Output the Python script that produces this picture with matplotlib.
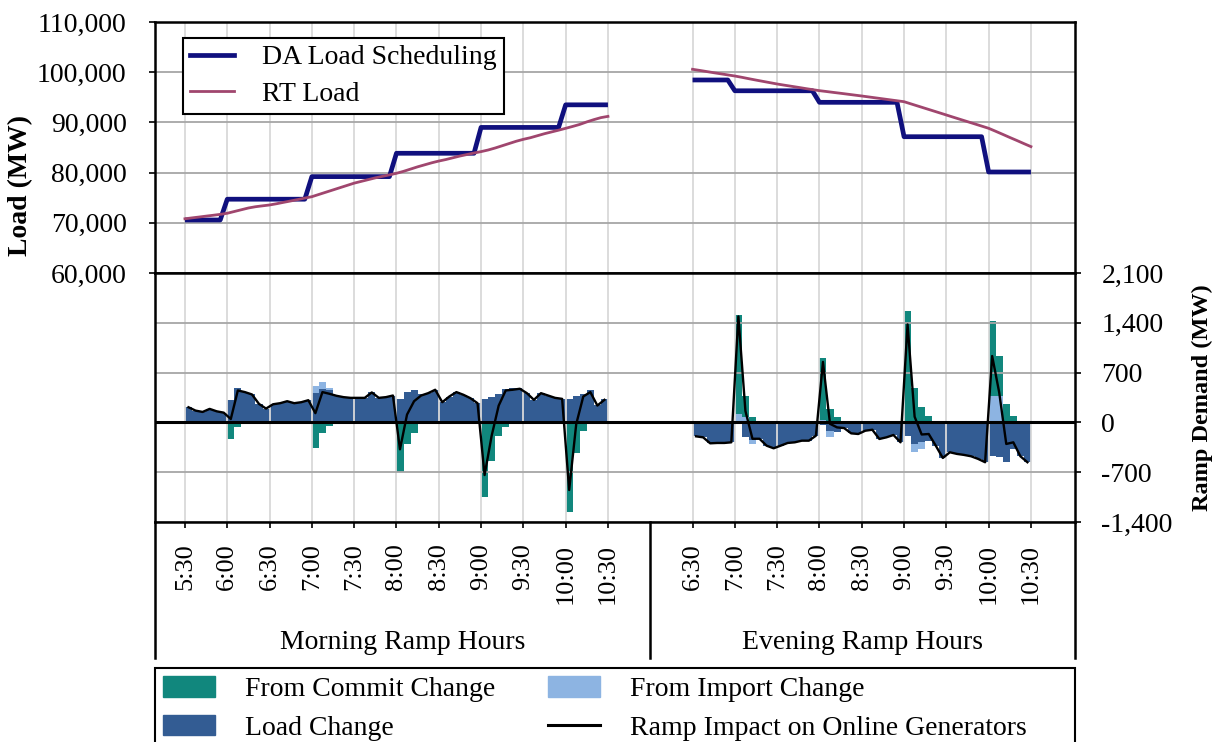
import matplotlib
matplotlib.use("Agg")
import matplotlib.pyplot as plt
import matplotlib.transforms as mtransforms
from matplotlib.patches import Patch, Rectangle
from matplotlib.lines import Line2D
from matplotlib.ticker import StrMethodFormatter, FixedLocator
import numpy as np

plt.rcParams['font.family'] = ['Liberation Serif', 'DejaVu Serif']
plt.rcParams['axes.unicode_minus'] = False
FS = 20      # horizontal text
FSR = 19     # rotated tick labels

# ---------------- data ----------------
morning_ticks = ['5:30', '6:00', '6:30', '7:00', '7:30', '8:00', '8:30',
                 '9:00', '9:30', '10:00', '10:30']
evening_ticks = ['6:30', '7:00', '7:30', '8:00', '8:30', '9:00', '9:30',
                 '10:00', '10:30']
group_labels = ['Morning Ramp Hours', 'Evening Ramp Hours']

# Load (MW) at each 5-min time stamp
da_morning = [70560, 70560, 70560, 70560, 70560, 70560,
              74700, 74700, 74700, 74700, 74700, 74700,
              74700, 74700, 74700, 74700, 74700, 74700,
              79200, 79200, 79200, 79200, 79200, 79200,
              79200, 79200, 79200, 79200, 79200, 79200,
              83850, 83850, 83850, 83850, 83850, 83850,
              83850, 83850, 83850, 83850, 83850, 83850,
              89000, 89000, 89000, 89000, 89000, 89000,
              89000, 89000, 89000, 89000, 89000, 89000,
              93500, 93500, 93500, 93500, 93500, 93500, 93500]
rt_morning = [70800, 70980, 71150, 71330, 71500, 71680,
              71900, 72250, 72600, 72950, 73200, 73380,
              73550, 73800, 74080, 74350, 74630, 74920,
              75200, 75650, 76100, 76550, 77000, 77450,
              77900, 78250, 78600, 78950, 79250, 79550,
              79860, 80250, 80700, 81150, 81550, 81950,
              82300, 82600, 82950, 83300, 83600, 83900,
              84180, 84500, 84900, 85350, 85800, 86250,
              86630, 86950, 87350, 87750, 88100, 88450,
              88820, 89200, 89600, 90100, 90550, 90950, 91200]
da_evening = [98450, 98450, 98450, 98450, 98450, 98450,
              96300, 96300, 96300, 96300, 96300, 96300,
              96300, 96300, 96300, 96300, 96300, 96300,
              94000, 94000, 94000, 94000, 94000, 94000,
              94000, 94000, 94000, 94000, 94000, 94000,
              87150, 87150, 87150, 87150, 87150, 87150,
              87150, 87150, 87150, 87150, 87150, 87150,
              80120, 80120, 80120, 80120, 80120, 80120, 80120]
rt_evening = [100580, 100360, 100130, 99900, 99680, 99460,
              99240, 98980, 98700, 98430, 98170, 97910,
              97650, 97420, 97200, 96980, 96750, 96530,
              96320, 96150, 95970, 95800, 95620, 95440,
              95260, 95070, 94880, 94690, 94500, 94310,
              94125, 93680, 93240, 92800, 92360, 91920,
              91475, 91030, 90590, 90150, 89710, 89270,
              88825, 88230, 87620, 87000, 86400, 85780, 85175]

# Ramp demand (MW) per 5-min interval
load_morning = [213, 166, 147, 190, 156, 137,
                317, 490, 426, 393, 260, 194,
                255, 270, 298, 270, 284, 312,
                410, 473, 450, 374, 355, 345,
                345, 345, 421, 345, 355, 378,
                330, 430, 450, 400, 411, 459,
                284, 364, 426, 388, 340, 270,
                331, 355, 402, 473, 487, 487,
                411, 317, 411, 378, 345, 331,
                331, 378, 402, 450, 250, 330]
import_morning = [0, 0, 0, 0, 0, 0,
                  0, 0, 0, 0, 0, 0,
                  0, 0, 0, 0, 0, 0,
                  100, 100, 40, 0, 0, 0,
                  0, 0, 0, 0, 0, 0,
                  0, 0, 0, 0, 0, 0,
                  0, 0, 0, 0, 0, 0,
                  0, 0, 0, 0, 0, 0,
                  0, 0, 0, 0, 0, 0,
                  0, 0, 0, 0, 0, 0]
commit_morning = [0, 0, 0, 0, 0, 0,
                  -238, -61, 0, 0, 0, 0,
                  0, 0, 0, 0, 0, 0,
                  -355, -145, -51, 0, 0, 0,
                  0, 0, 0, 0, 0, 0,
                  -695, -308, -145, 0, 0, 0,
                  0, 0, 0, 0, 0, 0,
                  -1054, -545, -190, -60, 0, 0,
                  0, 0, 0, 0, 0, 0,
                  -1260, -425, -121, 0, 0, 0]
impact_morning = [213, 166, 147, 190, 156, 137,
                  47, 449, 426, 393, 260, 194,
                  255, 270, 298, 270, 284, 312,
                  130, 426, 402, 374, 355, 345,
                  345, 345, 421, 345, 355, 378,
                  -378, 110, 298, 378, 411, 459,
                  284, 364, 426, 388, 340, 270,
                  -740, -189, 236, 449, 459, 473,
                  411, 317, 411, 378, 345, 331,
                  -950, -24, 364, 426, 237, 317]

load_evening = [-196, -210, -294, -289, -289, -280,
                -20, -210, -250, -230, -327, -364,
                -327, -289, -280, -257, -257, -187,
                -40, -120, -140, -80, -154, -163,
                -117, -103, -233, -210, -177, -280,
                -190, -300, -280, -257, -327, -500,
                -420, -443, -457, -476, -513, -560,
                -470, -490, -560, -373, -476, -560]
import_evening = [0, 0, 0, 0, 0, 0,
                  120, 80, -50, 0, 0, 0,
                  0, 0, 0, 0, 0, 0,
                  40, -90, 0, 0, 0, 0,
                  0, 0, 0, 0, 0, 0,
                  0, -110, -100, 0, 0, 0,
                  0, 0, 0, 0, 0, 0,
                  373, 373, 0, 0, 0, 0]
commit_evening = [0, 0, 0, 0, 0, 0,
                  1390, 290, 70, 0, 0, 0,
                  0, 0, 0, 0, 0, 0,
                  870, 187, 70, 0, 0, 0,
                  0, 0, 0, 0, 0, 0,
                  1563, 490, 210, 93, 0, 0,
                  0, 0, 0, 0, 0, 0,
                  1050, 560, 257, 93, 0, 0]
impact_evening = [-196, -210, -294, -289, -289, -280,
                  1490, 160, -230, -230, -327, -364,
                  -327, -289, -280, -257, -257, -187,
                  850, -20, -70, -80, -154, -163,
                  -117, -103, -233, -210, -177, -280,
                  1377, 80, -170, -163, -327, -500,
                  -420, -443, -457, -476, -513, -560,
                  933, 420, -303, -280, -476, -560]

# ---------------- styling ----------------
C_DA = '#10107E'
C_RT = '#A0466E'
C_COMMIT = '#11877D'
C_IMPORT = '#8DB4E2'
C_LOAD = '#335C93'
C_VGRID = '#D9D9D9'
C_HGRID = '#A6A6A6'

EVE_OFF = 72            # slot offset of evening block
DIVIDER = 66
XLIM = (-4.25, 126.25)

fig = plt.figure(figsize=(12.15, 7.42), dpi=100)
L, W = 155 / 1215, 920 / 1215
ax1 = fig.add_axes([L, 1 - 273 / 742, W, 251 / 742])
ax2 = fig.add_axes([L, 1 - 522 / 742, W, 249 / 742])

# x positions
xm_pts = np.arange(len(da_morning))
xe_pts = EVE_OFF + np.arange(len(da_evening))
xm_bar = np.arange(len(load_morning)) + 0.5
xe_bar = EVE_OFF + np.arange(len(load_evening)) + 0.5
tick_pos = list(np.arange(0, 61, 6)) + list(EVE_OFF + np.arange(0, 49, 6))
tick_lab = morning_ticks + evening_ticks

# ---- top: load ----
ax1.plot(xm_pts, da_morning, color=C_DA, lw=3.4, solid_capstyle='butt', zorder=3)
ax1.plot(xe_pts, da_evening, color=C_DA, lw=3.4, solid_capstyle='butt', zorder=3)
ax1.plot(xm_pts, rt_morning, color=C_RT, lw=2.0, zorder=4)
ax1.plot(xe_pts, rt_evening, color=C_RT, lw=2.0, zorder=4)
ax1.set_ylim(60000, 110000)
ax1.set_xlim(*XLIM)
ax1.yaxis.set_major_locator(FixedLocator(np.arange(60000, 110001, 10000)))
ax1.yaxis.set_major_formatter(StrMethodFormatter('{x:,.0f}'))
ax1.set_xticks(tick_pos)
ax1.tick_params(axis='x', length=0, labelbottom=False)
ax1.tick_params(axis='y', direction='out', length=4, width=1.2, pad=16.5,
                labelsize=FS)
ax1.set_ylabel('Load (MW)', fontsize=20, fontweight='bold')
ax1.yaxis.set_label_coords(-0.1326, 0.35)
ax1.set_axisbelow(True)
ax1.grid(axis='x', color=C_VGRID, lw=1.3)
ax1.grid(axis='y', color=C_HGRID, lw=1.3)

leg1 = ax1.legend(handles=[Line2D([], [], color=C_DA, lw=3.4),
                           Line2D([], [], color=C_RT, lw=2.0)],
                  labels=['DA Load Scheduling', 'RT Load'],
                  loc='upper left', bbox_to_anchor=(183 / 1215, 1 - 38 / 742),
                  bbox_transform=fig.transFigure, borderaxespad=0,
                  fontsize=FS, frameon=True, fancybox=False, framealpha=1,
                  edgecolor='black', handlelength=1.6, handletextpad=1.0,
                  labelspacing=0.4, borderpad=0.25)
leg1.get_frame().set_linewidth(1.5)


# ---- bottom: ramp ----
def stacked(ax, x, series, colors):
    pos = np.zeros(len(x))
    neg = np.zeros(len(x))
    for vals, c in zip(series, colors):
        v = np.asarray(vals, float)
        bottom = np.where(v >= 0, pos, neg)
        ax.bar(x, v, bottom=bottom, width=1.0, color=c, linewidth=0, zorder=1)
        pos += np.clip(v, 0, None)
        neg += np.clip(v, None, 0)


stacked(ax2, xm_bar, [load_morning, import_morning, commit_morning],
        [C_LOAD, C_IMPORT, C_COMMIT])
stacked(ax2, xe_bar, [load_evening, import_evening, commit_evening],
        [C_LOAD, C_IMPORT, C_COMMIT])
ax2.plot(xm_bar, impact_morning, color='black', lw=1.7, zorder=4)
ax2.plot(xe_bar, impact_evening, color='black', lw=1.7, zorder=4)
ax2.axhline(0, color='black', lw=2.2, zorder=3)

ax2.set_ylim(-1400, 2100)
ax2.set_xlim(*XLIM)
ax2.yaxis.tick_right()
ax2.yaxis.set_label_position('right')
ax2.yaxis.set_major_locator(FixedLocator(np.arange(-1400, 2101, 700)))
ax2.yaxis.set_major_formatter(StrMethodFormatter('{x:,.0f}'))
ax2.tick_params(axis='y', direction='out', length=4, width=1.2, pad=15,
                labelsize=FS)
ax2.set_ylabel('Ramp Demand (MW)', fontsize=17.5, fontweight='bold')
ax2.yaxis.set_label_coords(1.1272, 0.5)
ax2.set_xticks(tick_pos)
ax2.set_xticklabels(tick_lab, rotation=90, fontsize=FSR)
ax2.tick_params(axis='x', direction='out', length=4, width=1.2, pad=11.5)
ax2.set_axisbelow('line')
ax2.grid(axis='x', color=C_VGRID, lw=1.3)
ax2.grid(axis='y', color=C_HGRID, lw=1.3)

for ax in (ax1, ax2):
    for s in ax.spines.values():
        s.set_color('black')
        s.set_linewidth(1.8)

# category-group box under the axis
trans = mtransforms.blended_transform_factory(ax2.transData, ax2.transAxes)
for xv in (XLIM[0], DIVIDER, XLIM[1]):
    ax2.add_line(Line2D([xv, xv], [0, -0.546], transform=trans, color='black',
                        lw=1.8, clip_on=False))
ax2.text((XLIM[0] + DIVIDER) / 2, -0.482, group_labels[0], transform=trans,
         ha='center', va='center', fontsize=FS)
ax2.text((DIVIDER + XLIM[1]) / 2, -0.482, group_labels[1], transform=trans,
         ha='center', va='center', fontsize=FS)

# bottom legend (frame drawn as a full-width box)
ytop = 1 - 668 / 742
fig.patches.append(Rectangle((L, -0.05), W, ytop + 0.05,
                             transform=fig.transFigure, fill=False,
                             edgecolor='black', lw=1.5))
h2 = [Patch(color=C_COMMIT), Patch(color=C_LOAD), Patch(color=C_IMPORT),
      Line2D([], [], color='black', lw=2.2)]
l2 = ['From Commit Change', 'Load Change', 'From Import Change',
      'Ramp Impact on Online Generators']
leg2 = fig.legend(handles=h2, labels=l2, ncol=2, loc='upper left',
                  bbox_to_anchor=(L, ytop), borderaxespad=0, fontsize=FS,
                  frameon=False, handlelength=1.85, handleheight=0.75,
                  handletextpad=1.1, labelspacing=0.45, borderpad=0.3,
                  columnspacing=1.9)

fig.savefig('out.png', dpi=100)
